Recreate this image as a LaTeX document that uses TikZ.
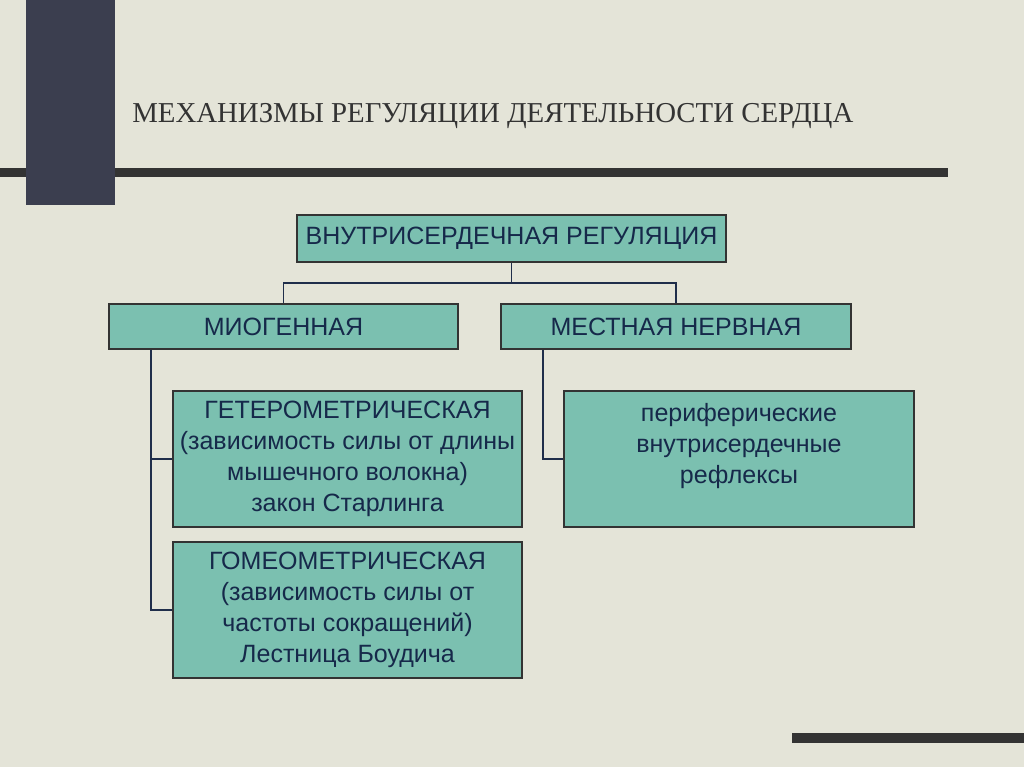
\documentclass[tikz,border=0pt]{standalone}
\usepackage{fontspec}
\setmainfont{Liberation Serif}
\setsansfont{Liberation Sans}
\usetikzlibrary{positioning,calc}

\definecolor{bgpaper}{HTML}{E4E4D8}
\definecolor{slate}{HTML}{3B3E4F}
\definecolor{barcol}{HTML}{333333}
\definecolor{tealbox}{HTML}{7BC0B0}
\definecolor{navytext}{HTML}{16294A}
\definecolor{linknavy}{HTML}{1F2D4A}

\tikzset{
    regbox/.style={draw=barcol, line width=1.2pt, fill=tealbox, text=navytext,
        font=\sffamily\fontsize{17.8}{22}\selectfont, align=center, inner sep=0pt},
    link/.style={draw=linknavy, line width=1pt}
}

\begin{document}
\begin{tikzpicture}[x=0.025cm, y=-0.025cm]

% Background
\fill[bgpaper] (0,0) rectangle (1024,767);
\useasboundingbox (0,0) rectangle (1024,767);

% Decoration bars
\fill[barcol] (0,168) rectangle (948,177);
\fill[slate] (26,0) rectangle (115,205);
\fill[barcol] (792,733) rectangle (1024,743);

% Title
\node[anchor=base west, inner sep=0pt, text=barcol, font=\fontsize{20.5}{24}\selectfont] (title) at (132,123)
    {МЕХАНИЗМЫ РЕГУЛЯЦИИ ДЕЯТЕЛЬНОСТИ СЕРДЦА};

% Boxes
\node[regbox, minimum width=10.725cm, minimum height=1.175cm] (intra) at (511.5,238.5) {ВНУТРИСЕРДЕЧНАЯ РЕГУЛЯЦИЯ};
\node[regbox, minimum width=8.725cm, minimum height=1.125cm] (myo) at (283.5,326.5) {МИОГЕННАЯ};
\node[regbox, minimum width=8.75cm, minimum height=1.125cm] (nerv) at (676,326.5) {МЕСТНАЯ НЕРВНАЯ};
\node[regbox, minimum width=8.725cm, minimum height=3.4cm] (hetero) at (347.5,459)
    {ГЕТЕРОМЕТРИЧЕСКАЯ\\(зависимость силы от длины\\мышечного волокна)\\закон Старлинга};
\node[regbox, minimum width=8.725cm, minimum height=3.4cm] (homeo) at (347.5,610)
    {ГОМЕОМЕТРИЧЕСКАЯ\\(зависимость силы от\\частоты сокращений)\\Лестница Боудича};
\node[regbox, minimum width=8.75cm, minimum height=3.4cm] (reflex) at (739,459)
    {периферические\\внутрисердечные\\рефлексы\\\mbox{}};

% Connectors
\coordinate (split) at ($(intra.south)+(0,20)$);
\draw[link] (intra.south) -- (split);
\draw[link] (split) -| (myo.north);
\draw[link] (split) -| (nerv.north);

\coordinate (myodrop) at ($(myo.south west)+(43,0)$);
\draw[link] (myodrop) |- (hetero.west);
\draw[link] (myodrop) |- (homeo.west);

\coordinate (nervdrop) at ($(nerv.south west)+(43,0)$);
\draw[link] (nervdrop) |- (reflex.west);

\end{tikzpicture}
\end{document}
